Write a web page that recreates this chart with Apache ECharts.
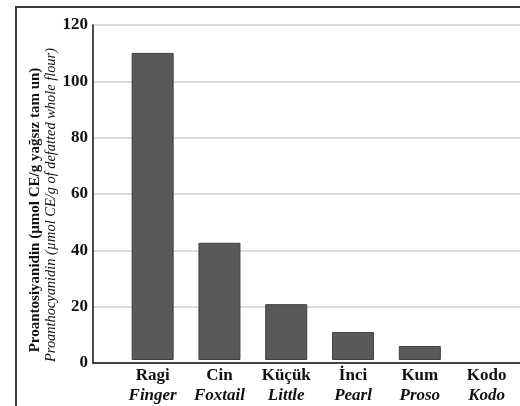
<!DOCTYPE html>
<html><head><meta charset="utf-8">
<script src="https://cdn.jsdelivr.net/npm/echarts@6/dist/echarts.min.js"></script>
<style>html,body{margin:0;padding:0;background:#fff}#c{width:520px;height:406px}</style>
</head><body><div id="c"></div>
<script>
var catTr = ['Ragi','Cin','Küçük','İnci','Kum','Kodo'];
var catEn = ['Finger','Foxtail','Little','Pearl','Proso','Kodo'];
var values = [110, 42, 20, 10, 5, 0];
var yTicks = [0, 20, 40, 60, 80, 100, 120];
var yNameTr = 'Proantosiyanidin (µmol CE/g yağsız tam un)';
var yNameEn = 'Proanthocyanidin (µmol CE/g of defatted whole flour)';

var serif = '"Liberation Serif","DejaVu Serif",serif';
var chart = echarts.init(document.getElementById('c'));
var yMin = yTicks[0], yMax = yTicks[yTicks.length-1], yInt = yTicks[1]-yTicks[0];
chart.setOption({
  animation:false,
  backgroundColor:'#fff',
  grid:[
    {left:93, right:0, top:25, bottom:43, containLabel:false},
    {left:119.25, width:405, top:25, bottom:43, containLabel:false}
  ],
  xAxis:[
    {gridIndex:0, type:'value', min:0, max:1, show:true,
     axisLine:{show:true, onZero:false, lineStyle:{color:'#111', width:1.5}},
     axisTick:{show:false}, axisLabel:{show:false}, splitLine:{show:false}},
    {gridIndex:1, type:'category', data:catTr.map(function(t,i){return t+'\n'+catEn[i];}),
     axisLine:{show:false}, axisTick:{show:false},
     axisLabel:{interval:0, margin:6, fontFamily:serif, fontSize:17, color:'#111', lineHeight:20,
       formatter:function(v){var p=v.split('\n');return '{a|'+p[0]+'}\n{b|'+p[1]+'}';},
       rich:{a:{fontFamily:serif, fontSize:17, fontWeight:'bold', color:'#111', lineHeight:20},
             b:{fontFamily:serif, fontSize:17, fontStyle:'italic', fontWeight:'bold', color:'#111', lineHeight:20}}}}
  ],
  yAxis:[
    {gridIndex:0, type:'value', min:yMin, max:yMax, interval:yInt,
     axisLine:{show:true, lineStyle:{color:'#111', width:1.5}},
     axisTick:{show:false},
     axisLabel:{margin:5, fontFamily:serif, fontSize:17, fontWeight:'bold', color:'#111'},
     splitLine:{show:true, lineStyle:{color:'#dcdcdc', width:2}}},
    {gridIndex:1, type:'value', min:yMin, max:yMax, interval:yInt, show:false,
     splitLine:{show:false}}
  ],
  series:[{
    type:'bar', xAxisIndex:1, yAxisIndex:1, barWidth:42,
    data:values.map(function(v){return v===0 ? {value:v, itemStyle:{borderWidth:0}} : v;}),
    itemStyle:{color:'#595959', borderColor:'#3f3f3f', borderWidth:1}
  }],
  graphic:[
    {type:'line', shape:{x1:16, y1:7, x2:520, y2:7}, style:{stroke:'#3a3a3a', lineWidth:2}},
    {type:'line', shape:{x1:16, y1:6, x2:16, y2:406}, style:{stroke:'#3a3a3a', lineWidth:2}},
    {type:'text', x:35, y:210, rotation:Math.PI/2,
     style:{text:yNameTr, font:'bold 15px '+serif, fill:'#111', align:'center', verticalAlign:'middle'}},
    {type:'text', x:51, y:205, rotation:Math.PI/2,
     style:{text:yNameEn, font:'italic 14.4px '+serif, fill:'#111', align:'center', verticalAlign:'middle'}}
  ]
});
</script></body></html>
